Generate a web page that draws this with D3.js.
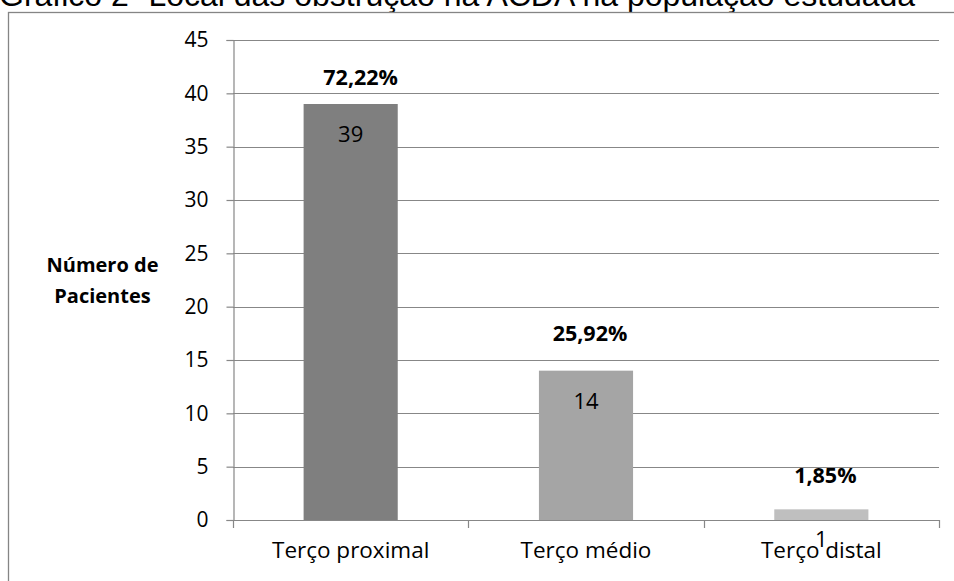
<!DOCTYPE html>
<html>
<head>
<meta charset="utf-8">
<script src="https://cdn.jsdelivr.net/npm/d3@7"></script>
<style>
  html, body { margin: 0; padding: 0; background: #fff; }
  svg { display: block; }
</style>
</head>
<body>
<svg id="chart" width="954" height="581"></svg>
<script>
// Obstruction site counts and their share of the studied population
const categories = ["Terço proximal", "Terço médio", "Terço distal"];
const patients = [39, 14, 1];
const percentLabels = ["72,22%", "25,92%", "1,85%"];
const yTicks = [0, 5, 10, 15, 20, 25, 30, 35, 40, 45];
const titleText = "Gráfico 2- Local das obstrução na ACDA na população estudada";
const yTitleLines = ["Número de", "Pacientes"];

const barColors = ["#7f7f7f", "#a5a5a5", "#bfbfbf"];
const gridColor = "#878787";
const labelFont = "'Open Sans', Lato, sans-serif";

// hand-placed percentage boxes: lift above the bar top and sideways nudge (px)
const pctLift = [19, 30, 26];
const pctNudge = [10, 4, 4];

const svg = d3.select("#chart");

// document caption, partly cut by the top edge
svg.append("text")
  .attr("x", -1).attr("y", 6)
  .attr("font-family", "'Liberation Sans', Arial, sans-serif")
  .attr("font-size", 32)
  .attr("fill", "#000")
  .text(titleText);

// chart frame
svg.append("rect")
  .attr("x", 8.5).attr("y", 12.5)
  .attr("width", 960).attr("height", 600)
  .attr("fill", "none")
  .attr("stroke", "#858585")
  .attr("stroke-width", 1.3);

const plot = { left: 233, right: 939, top: 40, bottom: 520 };

const x = d3.scaleBand()
  .domain(categories)
  .range([plot.left, plot.right])
  .paddingInner(0.6)
  .paddingOuter(0.3);

const y = d3.scaleLinear()
  .domain([0, 45])
  .range([plot.bottom, plot.top]);

// horizontal gridlines
svg.append("g")
  .selectAll("line")
  .data(yTicks.filter(d => d > 0))
  .join("line")
  .attr("x1", plot.left).attr("x2", plot.right)
  .attr("y1", d => Math.round(y(d)) + 0.5)
  .attr("y2", d => Math.round(y(d)) + 0.5)
  .attr("stroke", gridColor)
  .attr("stroke-width", 1.2);

// bars
svg.append("g")
  .selectAll("rect")
  .data(categories)
  .join("rect")
  .attr("x", d => x(d))
  .attr("width", x.bandwidth())
  .attr("y", (d, i) => y(patients[i]))
  .attr("height", (d, i) => y(0) - y(patients[i]))
  .attr("fill", (d, i) => barColors[i]);

// y axis
const yAxis = d3.axisLeft(y)
  .tickValues(yTicks)
  .tickSize(7)
  .tickPadding(18)
  .tickFormat(d3.format("d"));

const gy = svg.append("g")
  .attr("transform", `translate(${plot.left + 0.5},0)`)
  .call(yAxis);
gy.select(".domain").attr("stroke", gridColor).attr("stroke-width", 1.2);
gy.selectAll(".tick line").attr("stroke", gridColor).attr("stroke-width", 1.2);
gy.selectAll(".tick text")
  .attr("font-family", labelFont)
  .attr("font-size", 21)
  .attr("fill", "#000");

// x axis: baseline with ticks at the category boundaries
const step = x.step();
const bounds = [plot.left];
categories.forEach((c, i) => bounds.push(x(c) - x.paddingInner() * step / 2 + step));
bounds[bounds.length - 1] = plot.right;

svg.append("line")
  .attr("x1", plot.left).attr("x2", plot.right)
  .attr("y1", y(0) + 0.5).attr("y2", y(0) + 0.5)
  .attr("stroke", gridColor).attr("stroke-width", 1.2);

svg.append("g")
  .selectAll("line")
  .data(bounds)
  .join("line")
  .attr("x1", d => Math.round(d) + 0.5).attr("x2", d => Math.round(d) + 0.5)
  .attr("y1", y(0)).attr("y2", y(0) + 8)
  .attr("stroke", gridColor).attr("stroke-width", 1.2);

svg.append("g")
  .selectAll("text")
  .data(categories)
  .join("text")
  .attr("x", d => x(d) + x.bandwidth() / 2)
  .attr("y", y(0) + 38)
  .attr("text-anchor", "middle")
  .attr("font-family", labelFont)
  .attr("font-size", 22.5)
  .attr("fill", "#000")
  .text(d => d);

// value labels inside the top of each bar
svg.append("g")
  .selectAll("text")
  .data(categories)
  .join("text")
  .attr("x", d => x(d) + x.bandwidth() / 2)
  .attr("y", (d, i) => y(patients[i]) + 38)
  .attr("text-anchor", "middle")
  .attr("font-family", labelFont)
  .attr("font-size", 22)
  .attr("fill", "#000")
  .text((d, i) => patients[i]);

// percentage labels above the bars
svg.append("g")
  .selectAll("text")
  .data(categories)
  .join("text")
  .attr("x", (d, i) => x(d) + x.bandwidth() / 2 + pctNudge[i])
  .attr("y", (d, i) => y(patients[i]) - pctLift[i])
  .attr("text-anchor", "middle")
  .attr("font-family", labelFont)
  .attr("font-weight", "bold")
  .attr("font-size", 21.5)
  .attr("fill", "#000")
  .text((d, i) => percentLabels[i]);

// y axis title
svg.append("text")
  .attr("text-anchor", "middle")
  .attr("font-family", labelFont)
  .attr("font-weight", "bold")
  .attr("font-size", 20)
  .attr("fill", "#000")
  .selectAll("tspan")
  .data(yTitleLines)
  .join("tspan")
  .attr("x", 102.5)
  .attr("y", (d, i) => 272 + i * 31)
  .text(d => d);
</script>
</body>
</html>
